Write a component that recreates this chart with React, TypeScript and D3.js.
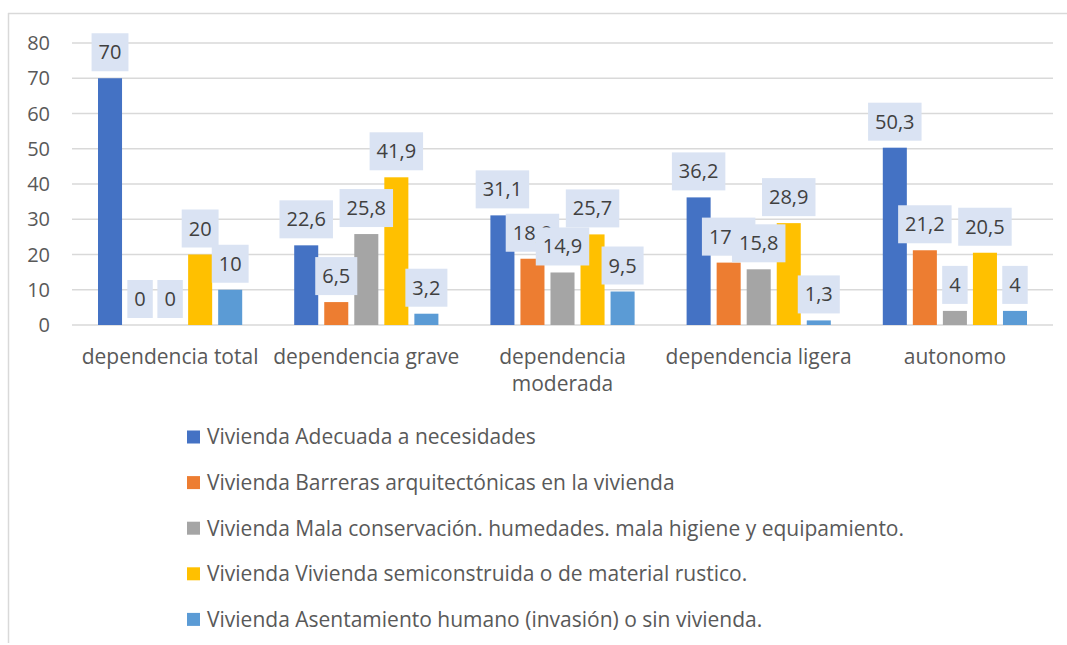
import React, { useEffect, useRef } from "react";
import * as d3 from "d3";

const categories = [
  "dependencia total",
  "dependencia grave",
  "dependencia moderada",
  "dependencia ligera",
  "autonomo",
];
const seriesNames = [
  "Vivienda Adecuada a necesidades",
  "Vivienda Barreras arquitectónicas en la vivienda",
  "Vivienda Mala conservación. humedades. mala higiene y equipamiento.",
  "Vivienda Vivienda semiconstruida o de material rustico.",
  "Vivienda Asentamiento humano (invasión) o sin vivienda.",
];
const adecuada = [70, 22.6, 31.1, 36.2, 50.3];
const barreras = [0, 6.5, 18.8, 17.7, 21.2];
const malaConservacion = [0, 25.8, 14.9, 15.8, 4];
const semiconstruida = [20, 41.9, 25.7, 28.9, 20.5];
const asentamiento = [10, 3.2, 9.5, 1.3, 4];
const yTicks = [0, 10, 20, 30, 40, 50, 60, 70, 80];
const colors = ["#4472c4", "#ed7d31", "#a5a5a5", "#ffc000", "#5b9bd5"];

const W = 1067;
const H = 645;
const FONT = "'Open Sans', sans-serif";
const FS_NUM = 20;
const FS_TXT = 21;

export default function App() {
  const ref = useRef<SVGSVGElement>(null);
  useEffect(() => {
    const svg = d3.select(ref.current);
    svg.selectAll("*").remove();
    const values = [adecuada, barreras, malaConservacion, semiconstruida, asentamiento];

    svg.append("rect").attr("x", 0).attr("y", 0).attr("width", W).attr("height", H).attr("fill", "#fff");
    // border (top and left visible)
    svg.append("line").attr("x1", 8).attr("x2", W).attr("y1", 13.5).attr("y2", 13.5)
      .attr("stroke", "#d9d9d9").attr("stroke-width", 1.5);
    svg.append("line").attr("x1", 8.5).attr("x2", 8.5).attr("y1", 13).attr("y2", 643)
      .attr("stroke", "#d9d9d9").attr("stroke-width", 1.5);

    const y = d3.scaleLinear().domain([0, 80]).range([325, 43]);
    const x0 = d3.scaleBand<string>().domain(categories).range([72, 1053]).padding(0);
    const bw = x0.bandwidth();
    const x1 = d3.scaleBand<number>().domain(d3.range(5)).range([26, bw - 26]).paddingInner(0.2).paddingOuter(0);

    // grid
    svg.append("g").selectAll("line").data(yTicks).join("line")
      .attr("x1", 72).attr("x2", 1053)
      .attr("y1", (d) => y(d)).attr("y2", (d) => y(d))
      .attr("stroke", "#d9d9d9").attr("stroke-width", 1.3);

    // y labels
    svg.append("g").selectAll("text").data(yTicks).join("text")
      .attr("x", 50).attr("y", (d) => y(d)).attr("dy", "0.35em")
      .attr("text-anchor", "end").attr("font-family", FONT).attr("font-size", FS_NUM)
      .attr("fill", "#595959").text((d) => d);

    // bars
    const gBars = svg.append("g");
    values.forEach((vals, s) => {
      gBars.selectAll(`rect.s${s}`).data(vals).join("rect")
        .attr("class", `s${s}`)
        .attr("x", (_, i) => (x0(categories[i]) as number) + (x1(s) as number))
        .attr("width", x1.bandwidth())
        .attr("y", (d) => y(d))
        .attr("height", (d) => y(0) - y(d))
        .attr("fill", colors[s]);
    });

    // labels
    const gLab = svg.append("g");
    values.forEach((vals, s) => {
      vals.forEach((v, i) => {
        const cx = (x0(categories[i]) as number) + (x1(s) as number) + x1.bandwidth() / 2;
        const txt = String(v).replace(".", ",");
        const g = gLab.append("g");
        const rect = g.append("rect").attr("fill", "#dae3f3");
        const t = g.append("text").attr("x", cx).attr("y", y(v) - 7 - 19).attr("dy", "0.35em")
          .attr("text-anchor", "middle").attr("font-family", FONT).attr("font-size", FS_NUM)
          .attr("fill", "#404040").text(txt);
        const w = (t.node() as SVGTextElement).getComputedTextLength() + 14;
        rect.attr("x", cx - w / 2).attr("width", w).attr("y", y(v) - 7 - 38).attr("height", 38);
      });
    });

    // category labels with wrap
    const gCat = svg.append("g");
    categories.forEach((c) => {
      const cx = (x0(c) as number) + bw / 2;
      const t = gCat.append("text").attr("x", cx).attr("y", 357).attr("dy", "0.35em")
        .attr("text-anchor", "middle").attr("font-family", FONT).attr("font-size", FS_TXT)
        .attr("fill", "#595959").text(c);
      if ((t.node() as SVGTextElement).getComputedTextLength() > bw - 4) {
        const words = c.split(" ");
        t.text(null);
        words.forEach((wd, k) => {
          t.append("tspan").attr("x", cx).attr("y", 357 + k * 27).attr("dy", "0.35em").text(wd);
        });
      }
    });

    // legend
    const gLeg = svg.append("g");
    seriesNames.forEach((n, s) => {
      const yy = 437 + s * 45.6;
      gLeg.append("rect").attr("x", 187).attr("y", yy - 6.5).attr("width", 13).attr("height", 13).attr("fill", colors[s]);
      gLeg.append("text").attr("x", 207).attr("y", yy).attr("dy", "0.35em")
        .attr("font-family", FONT).attr("font-size", FS_TXT).attr("fill", "#595959").text(n);
    });
  }, []);
  return (
    <svg ref={ref} width={W} height={H} style={{ position: "absolute", left: 0, top: 0, display: "block" }} />
  );
}
